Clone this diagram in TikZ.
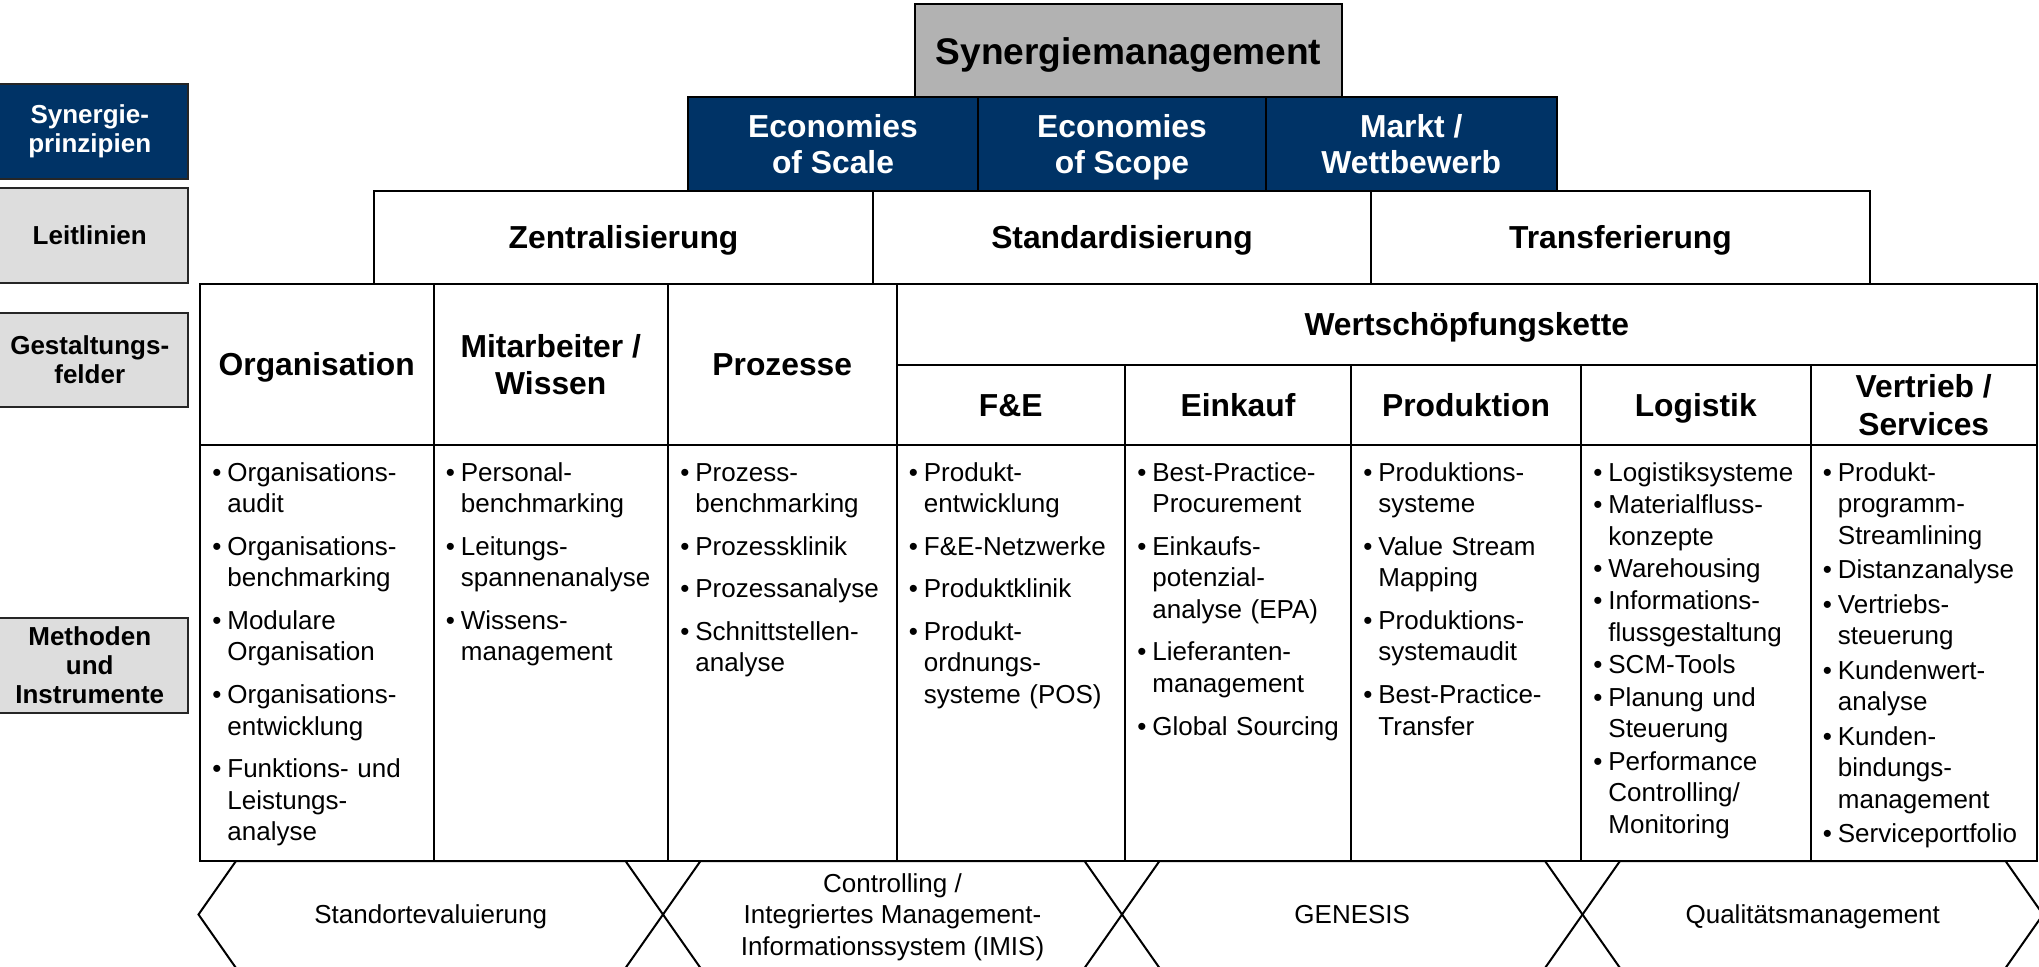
\documentclass[tikz,border=0pt]{standalone}
\usepackage{fontspec}
\setmainfont{Liberation Sans}
\definecolor{navy}{HTML}{003366}
\definecolor{lgray}{HTML}{DDDDDD}
\definecolor{mgray}{HTML}{B2B2B2}
\hyphenpenalty=10000
\exhyphenpenalty=10000
\newlength{\igap}
\newcommand{\bul}[1]{\par\hangindent=7.5pt\hangafter=1\noindent\strut\makebox[7.5pt][l]{\textbullet}#1\par\vskip\igap}
\newcommand{\nl}{\newline}
\newcommand{\mkcell}[7]{\node[#2, anchor=north west, minimum width={(#5-#3)*0.5pt}, minimum height={(#6-#4)*0.5pt}] (#1) at (#3,#4) {#7};}
\tikzset{
  cellbox/.style={draw=black, line width=1pt, inner sep=0pt, outer sep=0pt},
  oneline/.style={text height=#1, text depth=0pt},
  hdrfont/.style={font=\fontsize{15.9}{18.8}\selectfont\bfseries},
  hdrone/.style={cellbox, hdrfont, oneline=11.4pt},
  hdrtwo/.style={cellbox, hdrfont, align=center},
  bluebox/.style={cellbox, fill=navy, text=white, align=center, font=\fontsize{15.9}{18.3}\selectfont\bfseries},
  topbox/.style={cellbox, fill=mgray, oneline=13.3pt, font=\fontsize{18.55}{22}\selectfont\bfseries},
  lblbase/.style={cellbox, draw=black!85, fill=lgray, font=\fontsize{13}{14.5}\selectfont\bfseries},
  lblone/.style={lblbase, oneline=9.3pt},
  lbltwo/.style={lblbase, align=center},
  lblblue/.style={lbltwo, fill=navy, text=white},
  bodylist/.style={anchor=north west, inner sep=0pt, text width=130pt,
    font=\fontsize{13}{15.8}\selectfont},
  hexline/.style={draw=black, line width=1pt, line join=miter},
  hexone/.style={inner sep=0pt, font=\fontsize{13}{15.7}\selectfont, oneline=9.3pt},
  hexmulti/.style={inner sep=0pt, font=\fontsize{13}{15.7}\selectfont, align=center}
}
\begin{document}
\begin{tikzpicture}[x=0.5pt,y=-0.5pt]
\useasboundingbox (0,0) rectangle (2039,967);
% top
\mkcell{syn}{topbox}{915}{4}{1342}{97.5}{Synergiemanagement}
% Synergieprinzipien
\mkcell{eos}{bluebox}{688}{97.5}{978}{190.7}{Economies\\of Scale}
\mkcell{eosc}{bluebox}{978}{97.5}{1266}{190.7}{Economies\\of Sco\smash{p}e}
\mkcell{mw}{bluebox}{1266}{97.5}{1556.5}{190.7}{Markt /\\Wettbewerb}
% Leitlinien
\mkcell{zen}{hdrone}{374}{190.7}{873}{284}{Zentralisierung}
\mkcell{std}{hdrone}{873}{190.7}{1371}{284}{Standardisierung}
\mkcell{trf}{hdrone}{1371}{190.7}{1870}{284}{Transferierung}
% table header
\mkcell{org}{hdrone}{200}{284}{433.5}{445}{Organisation}
\mkcell{mit}{hdrtwo}{433.5}{284}{668}{445}{Mitarbeiter /\\Wissen}
\mkcell{proz}{hdrone}{668}{284}{896.5}{445}{Prozesse}
\mkcell{wsk}{hdrone}{896.5}{284}{2037}{365}{Wertschöpfungskette}
\mkcell{fue}{hdrone}{896.5}{365}{1125}{445}{F\&E}
\mkcell{eink}{hdrone}{1125}{365}{1351}{445}{Einkauf}
\mkcell{prod}{hdrone}{1351}{365}{1581}{445}{Produktion}
\mkcell{logi}{hdrone}{1581}{365}{1810.5}{445}{Logistik}
\mkcell{vtr}{hdrtwo}{1810.5}{365}{2037}{445}{Vertrieb /\\Services}
% table body cells
\mkcell{b1}{cellbox}{200}{445}{433.5}{861}{}
\mkcell{b2}{cellbox}{433.5}{445}{668}{861}{}
\mkcell{b3}{cellbox}{668}{445}{896.5}{861}{}
\mkcell{b4}{cellbox}{896.5}{445}{1125}{861}{}
\mkcell{b5}{cellbox}{1125}{445}{1351}{861}{}
\mkcell{b6}{cellbox}{1351}{445}{1581}{861}{}
\mkcell{b7}{cellbox}{1581}{445}{1810.5}{861}{}
\mkcell{b8}{cellbox}{1810.5}{445}{2037}{861}{}
% left labels
\mkcell{lsyn}{lblblue}{-8}{84}{187.5}{179}{Synergie-\\prinzipien}
\mkcell{lleit}{lblone}{-8}{188}{187.5}{283}{Leitlinien}
\mkcell{lgest}{lbltwo}{-8}{313}{187.5}{407}{Gestaltungs-\\felder}
\mkcell{lmeth}{lbltwo}{-8}{618}{187.5}{713}{Methoden\\und\\Instrumente}
% lists
\node[bodylist] (l1) at (212,449.2) {\setlength{\igap}{5.45pt}%
\bul{Organisations-\nl audit}
\bul{Organisations-\nl benchmarking}
\bul{Modulare\nl Organisation}
\bul{Organisations-\nl entwicklung}
\bul{Funktions- und\nl Leistungs-\nl analyse}};
\node[bodylist] (l2) at (445.5,449.2) {\setlength{\igap}{5.45pt}%
\bul{Personal-\nl benchmarking}
\bul{Leitungs-\nl spannenanalyse}
\bul{Wissens-\nl management}};
\node[bodylist] (l3) at (680,449.2) {\setlength{\igap}{5.45pt}%
\bul{Prozess-\nl benchmarking}
\bul{Prozessklinik}
\bul{Prozessanalyse}
\bul{Schnittstellen-\nl analyse}};
\node[bodylist] (l4) at (908.5,449.2) {\setlength{\igap}{5.45pt}%
\bul{Produkt-\nl entwicklung}
\bul{F\&E-Netzwerke}
\bul{Produktklinik}
\bul{Produkt-\nl ordnungs-\nl systeme (POS)}};
\node[bodylist] (l5) at (1137,449.2) {\setlength{\igap}{5.45pt}%
\bul{Best-Practice-\nl Procurement}
\bul{Einkaufs-\nl potenzial-\nl analyse (EPA)}
\bul{Lieferanten-\nl management}
\bul{Global Sourcing}};
\node[bodylist] (l6) at (1363,449.2) {\setlength{\igap}{5.45pt}%
\bul{Produktions-\nl systeme}
\bul{Value Stream\nl Mapping}
\bul{Produktions-\nl systemaudit}
\bul{Best-Practice-\nl Transfer}};
\node[bodylist] (l7) at (1593,449.2) {\setlength{\igap}{0.4pt}%
\bul{Logistiksysteme}
\bul{Materialfluss-\nl konzepte}
\bul{Warehousing}
\bul{Informations-\nl flussgestaltung}
\bul{SCM-Tools}
\bul{Planung und\nl Steuerung}
\bul{Performance\nl Controlling/\nl Monitoring}};
\node[bodylist] (l8) at (1822.5,449.2) {\setlength{\igap}{1.4pt}%
\bul{Produkt-\nl programm-\nl Streamlining}
\bul{Distanzanalyse}
\bul{Vertriebs-\nl steuerung}
\bul{Kundenwert-\nl analyse}
\bul{Kunden-\nl bindungs-\nl management}
\bul{Serviceportfolio}};
% hexagons
\draw[hexline] (198.5,914.5) -- (236,861) -- (625.5,861) -- (663,914.5) -- (625.5,968) -- (236,968) -- cycle;
\draw[hexline] (663,914.5) -- (700.5,861) -- (1084.5,861) -- (1122,914.5) -- (1084.5,968) -- (700.5,968) -- cycle;
\draw[hexline] (1122,914.5) -- (1159.5,861) -- (1545,861) -- (1582.5,914.5) -- (1545,968) -- (1159.5,968) -- cycle;
\draw[hexline] (1582.5,914.5) -- (1620,861) -- (2005.5,861) -- (2043,914.5) -- (2005.5,968) -- (1620,968) -- cycle;
\node[hexone] (h1) at (430.75,914.5) {Standortevaluierung};
\node[hexmulti] (h2) at (892.5,914.5) {Controlling /\\Integriertes Management-\\\smash{Informationssystem (IMIS)}};
\node[hexone] (h3) at (1352.25,914.5) {GENESIS};
\node[hexone] (h4) at (1812.75,914.5) {Qualitätsmanagement};
\end{tikzpicture}
\end{document}
